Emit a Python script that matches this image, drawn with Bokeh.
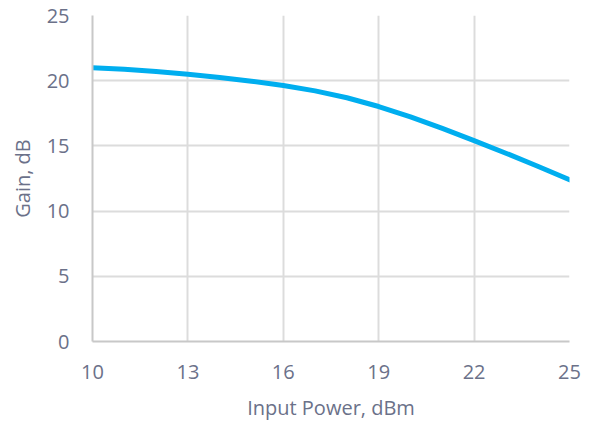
from bokeh.plotting import figure
from bokeh.embed import file_html
from bokeh.resources import INLINE
from bokeh.models import FixedTicker, Range1d

input_power = [10, 11, 12, 13, 14, 15, 16, 17, 18, 19, 20, 21, 22, 23, 24, 25]
gain = [21.0, 20.88, 20.71, 20.5, 20.25, 19.96, 19.63, 19.22, 18.69, 18.02, 17.22, 16.34, 15.4, 14.44, 13.44, 12.4]
x_ticks = [10, 13, 16, 19, 22, 25]
y_ticks = [0, 5, 10, 15, 20, 25]

p = figure(width=600, height=425, output_backend="svg", toolbar_location=None,
           x_range=Range1d(10, 25), y_range=Range1d(0, 25),
           min_border_left=92, min_border_right=31, min_border_top=15, min_border_bottom=84)
p.outline_line_color = None

p.line(input_power, gain, line_color="#00aeef", line_width=5, line_cap="round", line_join="round")

text_color = "#6b7189"
font = "Open Sans"
for ax in (p.xaxis[0], p.yaxis[0]):
    ax.axis_line_color = "#c8c8c8"
    ax.axis_line_width = 2
    ax.major_tick_line_color = None
    ax.minor_tick_line_color = None
    ax.major_label_text_font = font
    ax.major_label_text_font_size = "20px"
    ax.major_label_text_color = text_color
    ax.axis_label_text_font = font
    ax.axis_label_text_font_size = "20px"
    ax.axis_label_text_font_style = "normal"
    ax.axis_label_text_color = text_color

p.xaxis.ticker = FixedTicker(ticks=x_ticks)
p.yaxis.ticker = FixedTicker(ticks=y_ticks)
p.xaxis.axis_label = "Input Power, dBm"
p.yaxis.axis_label = "Gain, dB"
p.xaxis.major_label_standoff = 17
p.yaxis.major_label_standoff = 17
p.xaxis.axis_label_standoff = 12
p.yaxis.axis_label_standoff = 8

p.grid.grid_line_color = "#dcdcdc"
p.grid.grid_line_width = 2

open("out.html", "w").write(file_html(p, INLINE))
